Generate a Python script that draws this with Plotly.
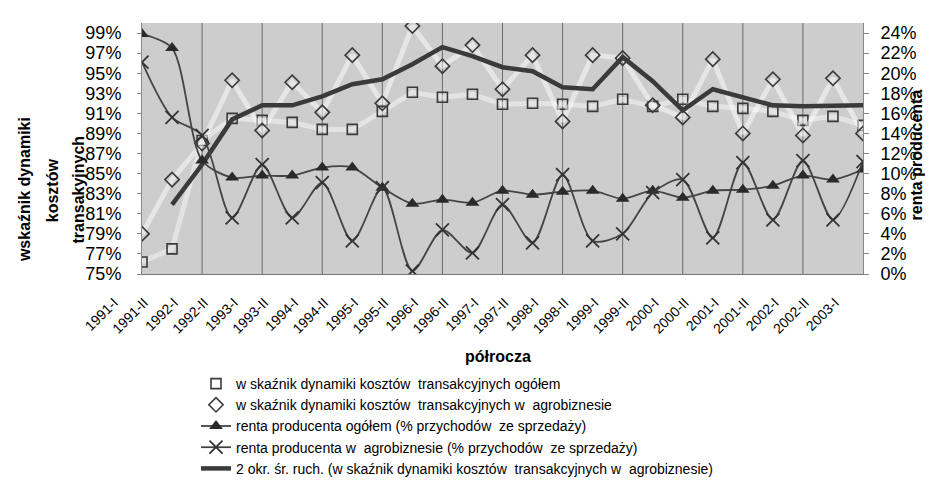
import plotly.graph_objects as go

categories = ["1991-I", "1991-II", "1992-I", "1992-II", "1993-I", "1993-II", "1994-I", "1994-II",
              "1995-I", "1995-II", "1996-I", "1996-II", "1997-I", "1997-II", "1998-I", "1998-II",
              "1999-I", "1999-II", "2000-I", "2000-II", "2001-I", "2001-II", "2002-I", "2002-II", "2003-I"]

# left axis (%)
wsk_ogolem = [76.2, 77.5, 88.3, 90.5, 90.3, 90.1, 89.4, 89.4, 91.2, 93.1, 92.6, 92.9, 91.9, 92.0,
              91.9, 91.7, 92.4, 91.7, 92.4, 91.7, 91.5, 91.2, 90.3, 90.7, 89.8]
wsk_agro = [79.0, 84.4, 88.0, 94.3, 89.3, 94.1, 91.1, 96.8, 92.0, 99.7, 95.7, 97.8, 93.4, 96.8,
            90.2, 96.8, 96.5, 91.8, 90.6, 96.4, 89.0, 94.4, 88.8, 94.5, 89.0]
sr_ruch = [None, 81.9, 85.9, 90.4, 91.8, 91.8, 92.7, 93.9, 94.4, 95.9, 97.6, 96.7, 95.6, 95.2,
           93.6, 93.4, 96.6, 94.2, 91.3, 93.4, 92.6, 91.8, 91.7, 91.7, 91.8]

# right axis (%)
renta_ogolem = [23.9, 22.5, 11.3, 9.6, 9.8, 9.8, 10.6, 10.6, 8.6, 7.0, 7.4, 7.1, 8.3, 7.9,
                8.2, 8.3, 7.5, 8.3, 7.6, 8.3, 8.4, 8.8, 9.8, 9.4, 10.4]
renta_agro = [21.1, 15.6, 13.8, 5.6, 10.9, 5.6, 9.1, 3.3, 8.6, 0.3, 4.4, 2.1, 6.9, 3.1,
              9.9, 3.3, 4.0, 8.1, 9.4, 3.6, 11.1, 5.4, 11.3, 5.4, 11.2]

names = [
    "w skaźnik dynamiki kosztów  transakcyjnych ogółem",
    "w skaźnik dynamiki kosztów  transakcyjnych w  agrobiznesie",
    "renta producenta ogółem (% przychodów  ze sprzedaży)",
    "renta producenta w  agrobiznesie (% przychodów  ze sprzedaży)",
    "2 okr. śr. ruch. (w skaźnik dynamiki kosztów  transakcyjnych w  agrobiznesie)",
]

x = list(range(len(categories)))
DARK = "#3a3a3a"
FONT = "Liberation Sans, Arial, sans-serif"

fig = go.Figure()
fig.add_trace(go.Scatter(x=x, y=wsk_ogolem, name=names[0], mode="lines+markers",
                         line=dict(color="rgba(255,255,255,0.45)", width=5),
                         marker=dict(symbol="square-open", size=10, color=DARK, line=dict(width=1.6))))
fig.add_trace(go.Scatter(x=x, y=wsk_agro, name=names[1], mode="lines+markers",
                         line=dict(color="rgba(255,255,255,0.5)", width=5),
                         marker=dict(symbol="diamond-open", size=11, color=DARK, line=dict(width=1.6))))
fig.add_trace(go.Scatter(x=x, y=renta_ogolem, name=names[2], mode="lines+markers", yaxis="y2",
                         line=dict(color="#444444", width=1.8, shape="spline", smoothing=0.8),
                         marker=dict(symbol="triangle-up", size=12, color="#2a2a2a")))
fig.add_trace(go.Scatter(x=x, y=renta_agro, name=names[3], mode="lines+markers", yaxis="y2",
                         line=dict(color="#444444", width=1.8, shape="spline", smoothing=0.8),
                         marker=dict(symbol="x-thin-open", size=13, color="#333333", line=dict(width=1.8))))
fig.add_trace(go.Scatter(x=x, y=sr_ruch, name=names[4], mode="lines",
                         line=dict(color=DARK, width=4.5)))

shapes = []
for i in x:
    if i % 2 == 0 and 0 < i < len(x) - 1:
        shapes.append(dict(type="line", xref="x", yref="paper", x0=i, x1=i, y0=0, y1=1,
                           line=dict(color="#6a6a6a", width=1), layer="below"))

fig.update_layout(
    width=933, height=481,
    margin=dict(l=134, r=78, t=15, b=215, autoexpand=False),
    paper_bgcolor="white", plot_bgcolor="#cdcdcd",
    font=dict(family=FONT, color="black", size=14),
    shapes=shapes,
    xaxis=dict(range=[0, len(x) - 1], tickmode="array", tickvals=x, ticktext=categories,
               tickangle=-45, showgrid=False, zeroline=False, showline=True, linecolor="#777",
               ticks="", tickfont=dict(size=14), ticklabelshift=-28, ticklabelstandoff=14,
               automargin=False),
    yaxis=dict(range=[75, 100], tick0=75, dtick=2, ticksuffix="%", showgrid=False,
               zeroline=False, showline=True, linecolor="#888", ticks="outside", ticklen=4,
               tickcolor="#888", tickfont=dict(size=18), ticklabelstandoff=12, automargin=False),
    yaxis2=dict(range=[0, 25], tick0=0, dtick=2, ticksuffix="%", overlaying="y", side="right",
                showgrid=False, zeroline=False, showline=True, linecolor="#888",
                ticks="outside", ticklen=5, tickcolor="#888", tickfont=dict(size=18),
                ticklabelstandoff=8, automargin=False),
    legend=dict(x=188 / 933, y=1 - 360 / 481, xref="container", yref="container",
                xanchor="left", yanchor="top", bgcolor="rgba(255,255,255,0)",
                font=dict(family=FONT, size=14), tracegroupgap=0, itemwidth=30),
    showlegend=True,
)

ann_common = dict(xref="paper", yref="paper", showarrow=False, xanchor="center", yanchor="middle")
annotations = [
    dict(text="<b>półrocza</b>", x=0.494, y=-0.327, font=dict(size=16), **ann_common),
    dict(text="<b>wskaźnik dynamiki</b>", x=-0.162, y=0.335, textangle=-90,
         font=dict(size=16), **ann_common),
    dict(text="<b>kosztów</b>", x=-0.123, y=0.335, textangle=-90,
         font=dict(size=16), **ann_common),
    dict(text="<b>transakyjnych</b>", x=-0.088, y=0.335, textangle=-90,
         font=dict(size=16), **ann_common),
    dict(text="<b>renta producenta</b>", x=1.074, y=0.474, textangle=-90,
         font=dict(size=16), **ann_common),
]
fig.update_layout(annotations=annotations)

fig.write_html("out.html")
